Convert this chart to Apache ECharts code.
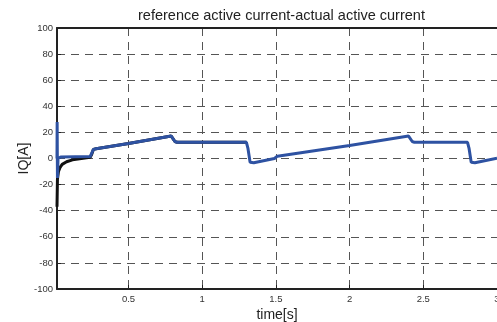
<!DOCTYPE html>
<html>
<head>
<meta charset="utf-8">
<title>reference active current-actual active current</title>
<script src="https://cdn.jsdelivr.net/npm/echarts@6/dist/echarts.min.js"></script>
<style>
  html, body { margin: 0; padding: 0; background: #fff; }
  #chart { width: 497px; height: 322px; }
</style>
</head>
<body>
<div id="chart"></div>
<script>
// time [s] / current [A]
const actualT = [0.015, 0.016, 0.018, 0.022, 0.04, 0.24, 0.25, 0.262, 0.28, 0.5, 0.79, 0.80, 0.815, 0.83, 1.30, 1.31, 1.325, 1.35, 1.49, 1.51, 2.0, 2.40, 2.41, 2.425, 2.44, 2.80, 2.81, 2.825, 2.85, 3.0];
const actualI = [0, 28, -15, 0, 1.2, 1.5, 3, 7, 7.5, 11.5, 17.2, 17.5, 13, 12.4, 12.4, 8, -2.9, -3.2, 0, 1.8, 10, 17.2, 17.5, 13, 12.4, 12.4, 8, -2.9, -3.2, 0.2];

const refT = [0.015, 0.018, 0.025, 0.035, 0.05, 0.08, 0.12, 0.18, 0.24, 0.25, 0.262, 0.28, 0.5, 0.79, 0.80, 0.815, 0.83, 1.30];
const refI = [-37, -16, -10, -7, -4.5, -2.5, -1, 0, 1, 3, 7, 7.5, 11.5, 17.2, 17.5, 13, 12.4, 12.4];

const xTicks = [0.5, 1, 1.5, 2, 2.5, 3];

const pairs = (t, v) => t.map((x, i) => [x, v[i]]);

const dashed = { color: "#555", width: 1, type: [8, 6] };

const myChart = echarts.init(document.getElementById("chart"), null, { renderer: "canvas" });

const option = {
  animation: false,
  textStyle: { fontFamily: "Liberation Sans, Arial, sans-serif" },
  title: {
    text: "reference active current-actual active current",
    left: 133,
    top: 3,
    textStyle: { fontSize: 14.5, fontWeight: "normal", color: "#222", fontFamily: "Liberation Sans, Arial, sans-serif" },
  },
  grid: { left: 57, right: 0, top: 28, bottom: 33, containLabel: false, outerBoundsMode: "none" },
  xAxis: [
    {
      type: "value",
      min: 0.015,
      max: 3,
      name: "time[s]",
      nameLocation: "middle",
      nameGap: 19,
      nameMoveOverlap: false,
      nameTextStyle: { fontSize: 14, color: "#222" },
      axisLine: { show: true, onZero: false, lineStyle: { color: "#222", width: 2 } },
      axisTick: { show: true, inside: true, length: 4, customValues: xTicks, lineStyle: { color: "#222" } },
      axisLabel: { fontSize: 9.5, color: "#333", margin: 5, customValues: xTicks, showMinLabel: true, showMaxLabel: true },
      splitLine: { show: true, lineStyle: dashed },
    },
    {
      type: "value",
      position: "top",
      min: 0.015,
      max: 3,
      axisLine: { show: true, onZero: false, lineStyle: { color: "#222", width: 2 } },
      axisTick: { show: false },
      axisLabel: { show: false },
      splitLine: { show: false },
    },
  ],
  yAxis: {
    type: "value",
    min: -100,
    max: 100,
    interval: 20,
    name: "IQ[A]",
    nameLocation: "middle",
    nameGap: 26,
    nameMoveOverlap: false,
    nameTextStyle: { fontSize: 14, color: "#222" },
    axisLine: { show: true, onZero: false, lineStyle: { color: "#222", width: 2 } },
    axisTick: { show: true, inside: true, length: 4, lineStyle: { color: "#222" } },
    axisLabel: { fontSize: 9.5, color: "#333", margin: 4 },
    splitLine: { show: true, lineStyle: dashed },
  },
  series: [
    {
      name: "reference",
      type: "line",
      data: pairs(refT, refI),
      showSymbol: false,
      lineStyle: { color: "#111", width: 3 },
      z: 2,
    },
    {
      name: "actual",
      type: "line",
      data: pairs(actualT, actualI),
      showSymbol: false,
      lineStyle: { color: "#2e52a2", width: 3 },
      z: 3,
    },
  ],
};

myChart.setOption(option);
</script>
</body>
</html>
